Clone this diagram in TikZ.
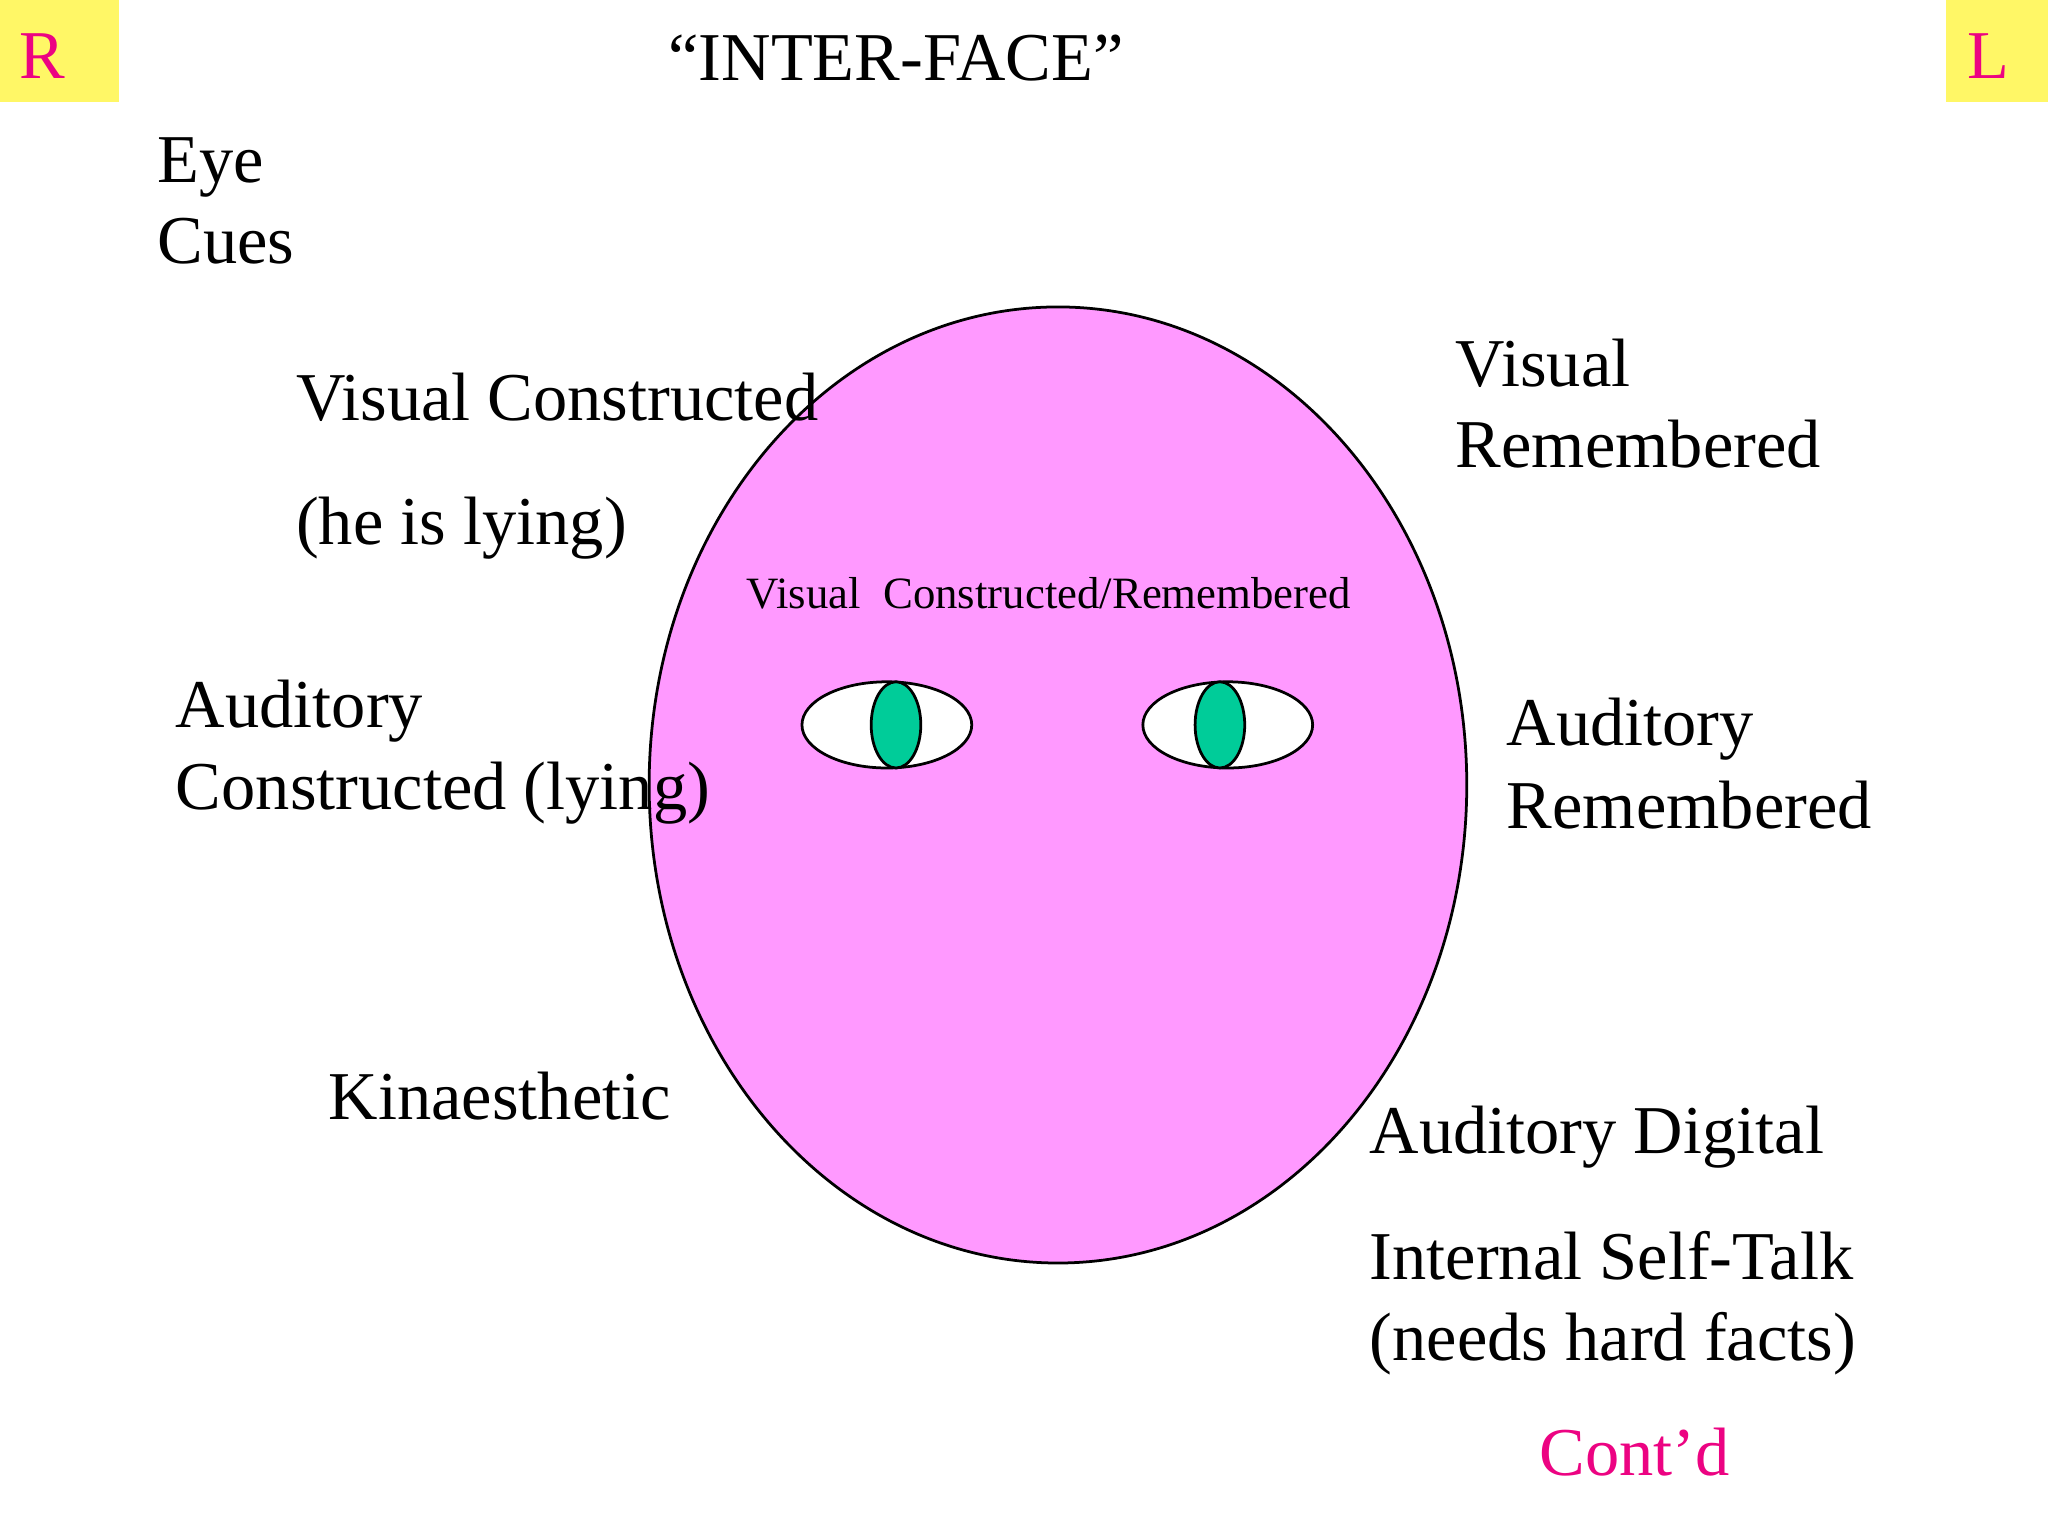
\documentclass[tikz,border=0pt]{standalone}
\usepackage{fontspec}
\setmainfont{Liberation Serif}
\begin{document}
\begin{tikzpicture}[x=0.01cm,y=-0.01cm,
  lbl/.style={anchor=base west,inner sep=0,font=\fontsize{14.9}{18}\selectfont},
  small/.style={anchor=base west,inner sep=0,font=\fontsize{9.75}{11}\selectfont},
  corner/.style={fill=yellow!60,draw=none},
  redtxt/.style={text=magenta!90!red}]
\useasboundingbox (0,0) rectangle (1568,1176);
\fill[white] (0,0) rectangle (1568,1176);
\fill[corner] (0,0) rectangle (91,78);
\fill[corner] (1490,0) rectangle (1568,78);
\node[lbl,redtxt] (r) at (14,60) {R};
\node[lbl,redtxt] (l) at (1506,60) {L};
\node[lbl,anchor=base] (title) at (686,62) {``INTER-FACE''};
\draw[fill={rgb,255:red,255;green,153;blue,255},line width=0.6pt] (810,601) ellipse [x radius=313,y radius=366];
\node[lbl] (eye) at (120,140) {Eye};
\node[lbl] (cues) at (120,202) {Cues};
\node[lbl] (vc) at (226,322) {Visual Constructed};
\node[lbl] (lying) at (226,417) {(he is lying)};
\node[lbl] (vis) at (1114,296) {Visual};
\node[lbl] (rem) at (1114,358) {Remembered};
\node[small] (vcr) at (571,466) {Visual\ \ Constructed/Remembered};
\node[lbl] (ac1) at (134,557) {Auditory};
\node[lbl] (ac2) at (134,620) {Constructed (lying)};
\node[lbl] (ar1) at (1153,571) {Auditory};
\node[lbl] (ar2) at (1153,634) {Remembered};
\node[lbl] (kin) at (251,857) {Kinaesthetic};
\node[lbl] (ad) at (1048,883) {Auditory Digital};
\node[lbl] (ist) at (1048,980) {Internal Self-Talk};
\node[lbl] (nhf) at (1048,1042) {(needs hard facts)};
\node[lbl,redtxt] (contd) at (1178,1130) {Cont'd};
\draw[fill=white,line width=0.6pt] (679,555) ellipse [x radius=65,y radius=33];
\draw[fill={rgb,255:red,0;green,204;blue,153},line width=0.6pt] (686,555) ellipse [x radius=19,y radius=33];
\draw[fill=white,line width=0.6pt] (940,555) ellipse [x radius=65,y radius=33];
\draw[fill={rgb,255:red,0;green,204;blue,153},line width=0.6pt] (934,555) ellipse [x radius=19,y radius=33];
\end{tikzpicture}
\end{document}
